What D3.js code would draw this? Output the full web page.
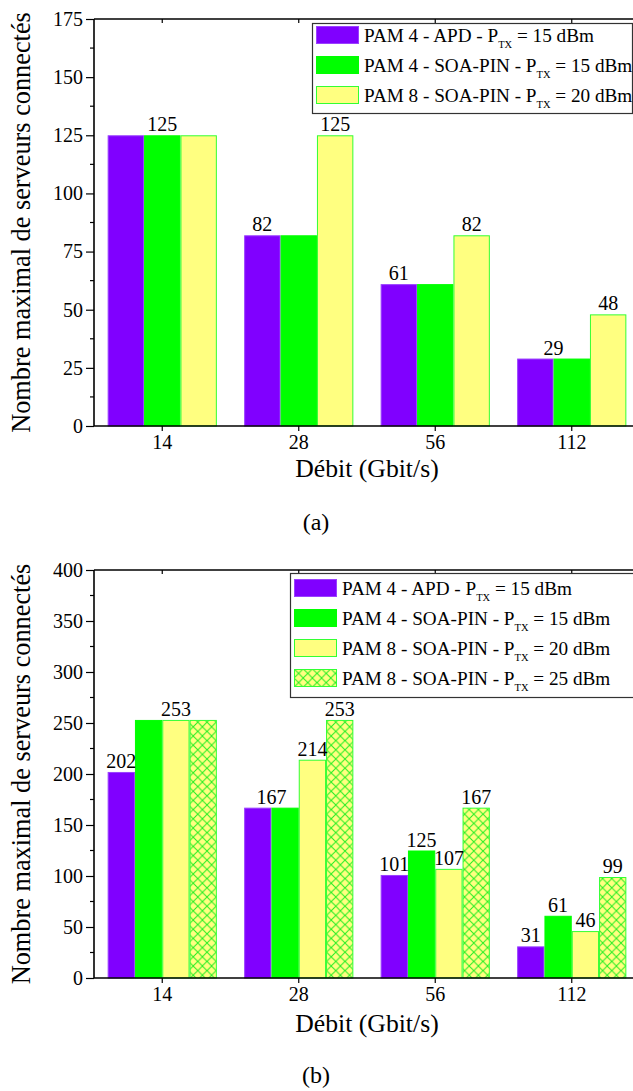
<!DOCTYPE html>
<html>
<head>
<meta charset="utf-8">
<script src="https://cdn.jsdelivr.net/npm/d3@7"></script>
<style>
  html, body { margin: 0; padding: 0; background: #fff; }
  svg { display: block; }
  svg text { font-family: "Liberation Serif", "Tinos", "Times New Roman", "DejaVu Serif", serif !important; fill: #000; }
</style>
</head>
<body>
<svg id="chart" width="633" height="1091"></svg>
<script>
// ---------------- DATA ----------------
const categories = ["14", "28", "56", "112"];

// Chart (a)
const seriesA = [
  { pre: "PAM 4 - APD - P", sub: "TX", post: " = 15 dBm", style: "purple" },
  { pre: "PAM 4 - SOA-PIN - P", sub: "TX", post: " = 15 dBm", style: "green" },
  { pre: "PAM 8 - SOA-PIN - P", sub: "TX", post: " = 20 dBm", style: "yellow" }
];
const a_apd15 = [125, 82, 61, 29];
const a_soa15 = [125, 82, 61, 29];
const a_pam8_20 = [125, 125, 82, 48];
const yTicksA = [0, 25, 50, 75, 100, 125, 150, 175];
// value labels: [category index, bar slot (may be fractional), value]
const labelsA = [
  [0, 1, 125],
  [1, 0, 82], [1, 2, 125],
  [2, 0, 61], [2, 2, 82],
  [3, 0.5, 29], [3, 2, 48]
];

// Chart (b)
const seriesB = [
  { pre: "PAM 4 - APD - P", sub: "TX", post: " = 15 dBm", style: "purple" },
  { pre: "PAM 4 - SOA-PIN - P", sub: "TX", post: " = 15 dBm", style: "green" },
  { pre: "PAM 8 - SOA-PIN - P", sub: "TX", post: " = 20 dBm", style: "yellow" },
  { pre: "PAM 8 - SOA-PIN - P", sub: "TX", post: " = 25 dBm", style: "hatch" }
];
const b_apd15 = [202, 167, 101, 31];
const b_soa15 = [253, 167, 125, 61];
const b_pam8_20 = [253, 214, 107, 46];
const b_pam8_25 = [253, 253, 167, 99];
const yTicksB = [0, 50, 100, 150, 200, 250, 300, 350, 400];
const labelsB = [
  [0, 0, 202], [0, 2, 253],
  [1, 0.5, 167], [1, 2, 214], [1, 3, 253],
  [2, 0, 101], [2, 1, 125], [2, 2, 107], [2, 3, 167],
  [3, 0, 31], [3, 1, 61], [3, 2, 46], [3, 3, 99]
];

const yTitle = "Nombre maximal de serveurs connectés";
const xTitle = "Débit (Gbit/s)";

// ---------------- STYLES ----------------
const styles = {
  purple: { fill: "#8000ff", stroke: "#9a40ff" },
  green:  { fill: "#00ff00", stroke: "#00ff00" },
  yellow: { fill: "#ffff80", stroke: "#33ff33" },
  hatch:  { fill: "url(#hatch)", stroke: "#33ff33" }
};

const svg = d3.select("#chart");
svg.append("rect").attr("width", 633).attr("height", 1091).attr("fill", "#fff");

const defs = svg.append("defs");
const pat = defs.append("pattern")
  .attr("id", "hatch").attr("patternUnits", "userSpaceOnUse")
  .attr("width", 9.2).attr("height", 9.2);
pat.append("rect").attr("width", 9.2).attr("height", 9.2).attr("fill", "#ffff80");
pat.append("path").attr("d", "M0,0L9.2,9.2M9.2,0L0,9.2M-1,8.2L1,10.2M8.2,-1L10.2,1")
  .attr("stroke", "#22ee22").attr("stroke-width", 1).attr("fill", "none");

function drawChart(opt) {
  const g = svg.append("g");
  const { left, right, top, bottom } = opt;
  const x = d3.scaleBand().domain(categories).range([left, right])
    .paddingInner(0.2).paddingOuter(0.1);
  const y = d3.scaleLinear().domain(opt.yDomain).range([bottom, top]);
  const xs = d3.scaleBand().domain(d3.range(opt.series.length)).range([0, x.bandwidth()]);

  // bars
  opt.series.forEach((s, si) => {
    const st = styles[s.style];
    g.append("g").selectAll("rect").data(opt.values[si]).join("rect")
      .attr("x", (d, i) => x(categories[i]) + xs(si) + 0.5)
      .attr("y", d => y(d) + 0.5)
      .attr("width", xs.bandwidth() - 1)
      .attr("height", d => y(0) - y(d) - 0.5)
      .attr("fill", st.fill)
      .attr("stroke", st.stroke)
      .attr("stroke-width", 1);
  });

  // value labels
  g.append("g").selectAll("text").data(opt.labels).join("text")
    .attr("x", d => x(categories[d[0]]) + xs.step() * (d[1] + 0.5))
    .attr("y", d => y(d[2]) - 4)
    .attr("text-anchor", "middle")
    .attr("font-size", 20)
    .text(d => d[2]);

  // y axis (left)
  const yAxis = d3.axisLeft(y).tickValues(opt.yTicks).tickSize(8).tickPadding(3);
  const ya = g.append("g").attr("transform", `translate(${left},0)`).call(yAxis);
  ya.select(".domain").remove();
  ya.selectAll(".tick line").attr("stroke", "#000").attr("stroke-width", 1.2);
  ya.selectAll(".tick text").attr("font-size", 20).attr("fill", "#000");
  // minor ticks
  const minor = d3.range(opt.yTicks.length - 1).map(i => (opt.yTicks[i] + opt.yTicks[i + 1]) / 2);
  g.append("g").selectAll("line").data(minor).join("line")
    .attr("x1", left - 4).attr("x2", left)
    .attr("y1", d => y(d)).attr("y2", d => y(d))
    .attr("stroke", "#000").attr("stroke-width", 1.2);

  // x axis (bottom)
  const xAxis = d3.axisBottom(x).tickSize(5).tickPadding(4);
  const xa = g.append("g").attr("transform", `translate(0,${bottom})`).call(xAxis);
  xa.select(".domain").remove();
  xa.selectAll(".tick line").attr("stroke", "#000").attr("stroke-width", 1.2);
  xa.selectAll(".tick text").attr("font-size", 20).attr("fill", "#000");

  // top axis ticks (inward)
  const xt = g.append("g").attr("transform", `translate(0,${top})`)
    .call(d3.axisBottom(x).tickSize(4).tickFormat(""));
  xt.select(".domain").remove();
  xt.selectAll(".tick line").attr("stroke", "#000").attr("stroke-width", 1.2);

  // frame
  g.append("line").attr("x1", left).attr("x2", right).attr("y1", bottom).attr("y2", bottom)
    .attr("stroke", "#000").attr("stroke-width", 1.6);
  g.append("line").attr("x1", left).attr("x2", right).attr("y1", top).attr("y2", top)
    .attr("stroke", "#000").attr("stroke-width", 1.6);
  g.append("line").attr("x1", left).attr("x2", left).attr("y1", top).attr("y2", bottom)
    .attr("stroke", "#000").attr("stroke-width", 1.6);

  // axis titles
  g.append("text")
    .attr("transform", `translate(${opt.yTitleX},${(top + bottom) / 2}) rotate(-90)`)
    .attr("text-anchor", "middle").attr("font-size", 26.3).text(yTitle);
  g.append("text")
    .attr("x", (left + right) / 2).attr("y", opt.xTitleY)
    .attr("text-anchor", "middle").attr("font-size", 25.7).text(xTitle);

  // caption
  g.append("text")
    .attr("x", 316).attr("y", opt.captionY)
    .attr("text-anchor", "middle").attr("font-size", 24)
    .text(opt.caption);

  // legend
  const L = opt.legend;
  g.append("rect").attr("x", L.x + 0.5).attr("y", L.y + 0.5)
    .attr("width", L.w).attr("height", L.h)
    .attr("fill", "#fff").attr("stroke", "#333").attr("stroke-width", 1.2);
  const rows = g.append("g").selectAll("g").data(opt.series).join("g")
    .attr("transform", (d, i) => `translate(${L.x + 4},${L.y + L.first + i * L.step})`);
  rows.append("rect")
    .attr("x", 0.5).attr("y", -8.5).attr("width", 42).attr("height", 17)
    .attr("fill", d => styles[d.style].fill)
    .attr("stroke", d => styles[d.style].stroke).attr("stroke-width", 1);
  const t = rows.append("text").attr("x", 48).attr("y", 7).attr("font-size", 19.2);
  t.append("tspan").text(d => d.pre);
  t.append("tspan").attr("font-size", 10.5).attr("dy", 6).text(d => d.sub);
  t.append("tspan").attr("dy", -6).text(d => d.post);
}

drawChart({
  left: 94, right: 640, top: 19, bottom: 426,
  yDomain: [0, 175], yTicks: yTicksA,
  series: seriesA, values: [a_apd15, a_soa15, a_pam8_20], labels: labelsA,
  yTitleX: 30, xTitleY: 477, caption: "(a)", captionY: 530,
  legend: { x: 312, y: 23, w: 320, h: 90, first: 12, step: 30 }
});

drawChart({
  left: 94, right: 640, top: 570, bottom: 978,
  yDomain: [0, 400], yTicks: yTicksB,
  series: seriesB, values: [b_apd15, b_soa15, b_pam8_20, b_pam8_25], labels: labelsB,
  yTitleX: 30, xTitleY: 1032, caption: "(b)", captionY: 1083,
  legend: { x: 290, y: 573, w: 360, h: 124, first: 15, step: 30 }
});
</script>
</body>
</html>
